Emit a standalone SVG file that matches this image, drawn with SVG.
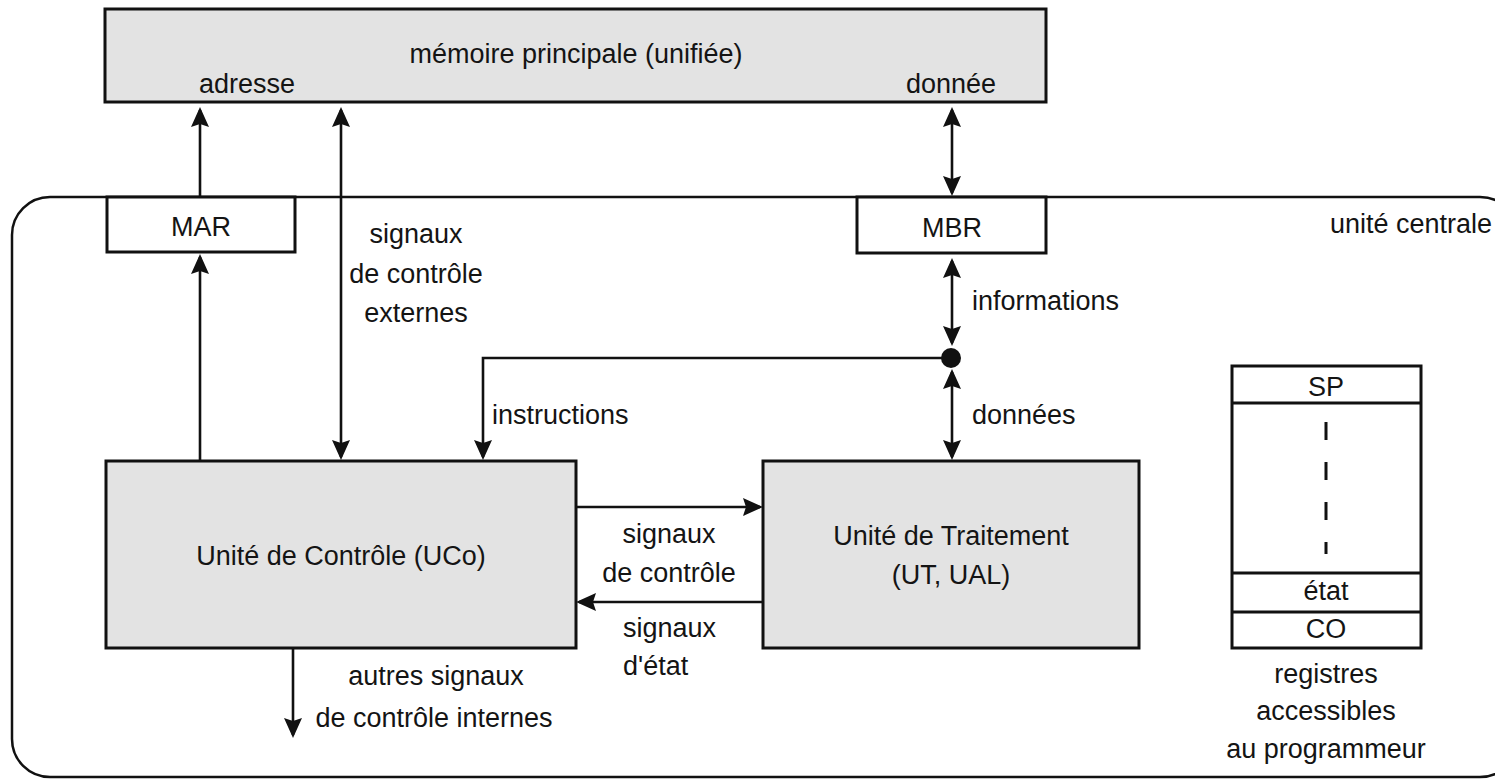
<svg xmlns="http://www.w3.org/2000/svg" width="1495" height="779" viewBox="0 0 1495 779">
<style>
  text { font-family: "Liberation Sans", Arial, sans-serif; font-size: 27px; fill: #141414; }
  .c { text-anchor: middle; }
  .box { fill: #e3e3e3; stroke: #111; stroke-width: 3; }
  .reg { fill: #ffffff; stroke: #111; stroke-width: 3; }
  .frame { fill: none; stroke: #111; stroke-width: 2.5; }
  .conn { fill: none; stroke: #111; stroke-width: 2.6; }
  .one { marker-end: url(#ah); }
  .two { marker-start: url(#ah); marker-end: url(#ah); }
</style>
<defs>
  <marker id="ah" viewBox="0 0 20 18" refX="17" refY="9" markerWidth="20" markerHeight="18" markerUnits="userSpaceOnUse" orient="auto-start-reverse">
    <path d="M0,0 L20,9 L0,18 L3,9 Z" fill="#111"/>
  </marker>
</defs>
<rect width="1495" height="779" fill="#ffffff"/>

<g id="unite-centrale">
  <rect class="frame" x="12" y="197" width="1506" height="580" rx="38" ry="38"/>
  <text x="1492" y="233" text-anchor="end">unité centrale</text>
</g>

<g id="memoire">
  <rect class="box" x="105" y="9" width="941" height="93"/>
  <text class="c" x="576" y="63">mémoire principale (unifiée)</text>
  <text class="c" x="247" y="93">adresse</text>
  <text class="c" x="951" y="93">donnée</text>
</g>

<g id="MAR">
  <rect class="reg" x="107" y="197" width="188" height="55"/>
  <text class="c" x="201" y="236">MAR</text>
</g>

<g id="MBR">
  <rect class="reg" x="857" y="197" width="189" height="56"/>
  <text class="c" x="952" y="237">MBR</text>
</g>

<g id="UCo">
  <rect class="box" x="106" y="461" width="470" height="187"/>
  <text class="c" x="341" y="565">Unité de Contrôle (UCo)</text>
</g>

<g id="UT">
  <rect class="box" x="763" y="461" width="376" height="187"/>
  <text class="c" x="951" y="545">Unité de Traitement</text>
  <text class="c" x="951" y="584">(UT, UAL)</text>
</g>

<g id="registres">
  <rect class="reg" x="1232" y="366" width="189" height="282"/>
  <line x1="1232" y1="403" x2="1421" y2="403" stroke="#111" stroke-width="3"/>
  <line x1="1232" y1="573" x2="1421" y2="573" stroke="#111" stroke-width="3"/>
  <line x1="1232" y1="612" x2="1421" y2="612" stroke="#111" stroke-width="3"/>
  <line x1="1326" y1="422" x2="1326" y2="554" stroke="#111" stroke-width="3" stroke-dasharray="18 22"/>
  <text class="c" x="1326" y="396">SP</text>
  <text class="c" x="1326" y="600">état</text>
  <text class="c" x="1326" y="638">CO</text>
  <text class="c" x="1326" y="683">registres</text>
  <text class="c" x="1326" y="720">accessibles</text>
  <text class="c" x="1326" y="758">au programmeur</text>
</g>

<g id="connecteurs">
  <path class="conn one" d="M200,197 V110"/>
  <path class="conn two" d="M341,110 V457"/>
  <path class="conn two" d="M952,110 V193"/>
  <path class="conn one" d="M200,461 V257"/>
  <path class="conn two" d="M952,261 V343"/>
  <path class="conn two" d="M952,372 V457"/>
  <path class="conn one" d="M952,358 H483 V457"/>
  <path class="conn one" d="M576,507 H760"/>
  <path class="conn one" d="M763,602 H579"/>
  <path class="conn one" d="M293,648 V735"/>
  <circle cx="951" cy="358" r="10" fill="#111"/>
</g>

<g id="etiquettes">
  <text class="c" x="416" y="243">signaux</text>
  <text class="c" x="416" y="283">de contrôle</text>
  <text class="c" x="416" y="322">externes</text>
  <text x="972" y="310">informations</text>
  <text x="492" y="424">instructions</text>
  <text x="972" y="424">données</text>
  <text class="c" x="669" y="543">signaux</text>
  <text class="c" x="669" y="582">de contrôle</text>
  <text x="623" y="637">signaux</text>
  <text x="623" y="675">d'état</text>
  <text class="c" x="436" y="685">autres signaux</text>
  <text class="c" x="434" y="727">de contrôle internes</text>
</g>
</svg>
